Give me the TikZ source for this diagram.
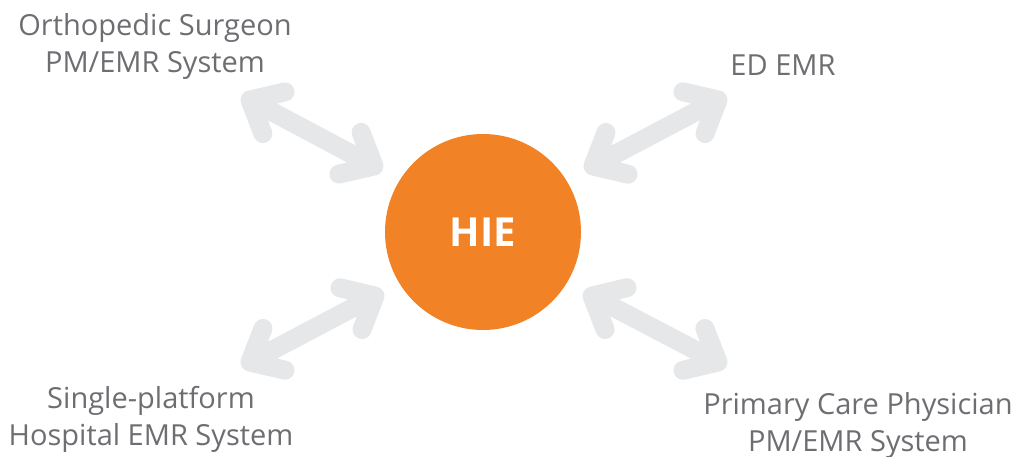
\documentclass[tikz,border=0pt]{standalone}
\usepackage{fontspec}
\setmainfont{Open Sans}
\usetikzlibrary{calc}
\definecolor{hieorange}{HTML}{F28226}
\definecolor{linkgray}{HTML}{E6E7E8}
\definecolor{labelgray}{HTML}{6D6E71}
\tikzset{
  hub/.style={circle, fill=hieorange, minimum size=196pt, inner sep=0pt,
    text=white, font=\fontsize{40}{46}\selectfont\bfseries},
  link/.style={draw=linkgray, line width=19pt, line cap=round, line join=round},
  lbl/.style={text=labelgray, align=center, inner sep=0pt,
    font=\fontsize{29}{37}\selectfont},
}
% two-headed chevron arrow between two named points
\newcommand\twoway[2]{%
  \draw[link] ($(#1)!36pt!-41:(#2)$) -- (#1) -- ($(#1)!36pt!41:(#2)$)
              (#1) -- (#2)
              ($(#2)!36pt!-41:(#1)$) -- (#2) -- ($(#2)!36pt!41:(#1)$);}
\begin{document}
\begin{tikzpicture}[x=1pt,y=-1pt]
  \useasboundingbox (0,0) rectangle (1013,456);
  \node[hub] (hie) at (483,232) {HIE};

  % arrow end points
  \coordinate (tlA) at (250,100);  \coordinate (tlB) at (374,166);
  \coordinate (trA) at (718,100);  \coordinate (trB) at (593,166);
  \coordinate (blA) at (250,362);  \coordinate (blB) at (375,296);
  \coordinate (brA) at (718,362);  \coordinate (brB) at (592,296);

  \twoway{tlA}{tlB}
  \twoway{trA}{trB}
  \twoway{blA}{blB}
  \twoway{brA}{brB}

  % labels, placed by the baseline of their last line
  \node[lbl, anchor=base] (ortho) at (155,72) {Orthopedic Surgeon\\PM/EMR System};
  \node[lbl, anchor=base] (ed) at (783,75) {ED EMR};
  \node[lbl, anchor=base] (single) at (151,445) {Single-platform\\Hospital EMR System};
  \node[lbl, anchor=base] (pcp) at (858,451) {Primary Care Physician\\PM/EMR System};
\end{tikzpicture}
\end{document}
